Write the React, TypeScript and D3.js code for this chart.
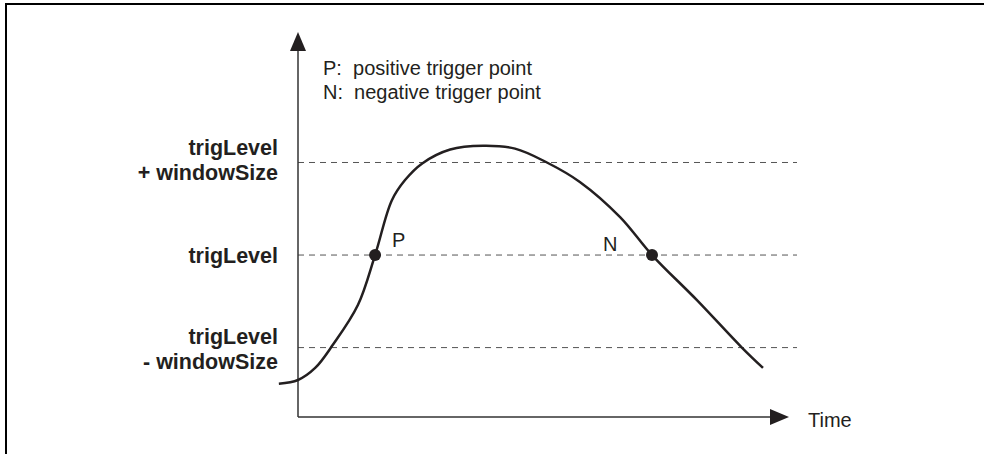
import * as d3 from "d3";

// signal samples (time units, level in windowSize units around trigLevel)
const signalTime = [-0.39, 0, 0.35, 0.71, 1.22, 1.57, 1.91, 2.18, 2.53, 3.1, 3.77, 4.42, 5.07, 5.74, 6.56, 7.21, 8.13, 9.04, 9.47];
const signalLevel = [-1.39, -1.35, -1.22, -0.97, -0.54, 0, 0.59, 0.81, 0.99, 1.14, 1.18, 1.15, 1.0, 0.79, 0.41, 0, -0.49, -1.0, -1.22];

const trigLevel = 0;
const windowSize = 1;
const levelLines = [trigLevel + windowSize, trigLevel, trigLevel - windowSize];
const levelLabels = [["trigLevel", "+ windowSize"], ["trigLevel"], ["trigLevel", "- windowSize"]];

const triggerPoints = [
  { name: "P", t: 1.57, v: trigLevel },
  { name: "N", t: 7.21, v: trigLevel },
];
const legendLines = ["P:  positive trigger point", "N:  negative trigger point"];
const xAxisLabel = "Time";

const W = 986;
const H = 454;
const font = "Arial, 'Liberation Sans', sans-serif";

export default function App() {
  const x = d3.scaleLinear().domain([0, 10]).range([298, 789]);
  const y = d3.scaleLinear().domain([-1.75, 2.41]).range([417, 32]);

  const data = signalTime.map((t, i) => ({ t, v: signalLevel[i] }));
  const line = d3
    .line<{ t: number; v: number }>()
    .x((d) => x(d.t))
    .y((d) => y(d.v))
    .curve(d3.curveCatmullRom.alpha(0.5));

  const x0 = x(0);
  const y0 = y(-1.75);
  const xEnd = x(10);
  const yTop = y(2.41);

  // label offsets for each level group (baselines relative to dashed line)
  const labelOffsets = [[-7, 18], [8], [-4, 21]];

  return (
    <svg
      width={W}
      height={H}
      style={{ position: "absolute", left: 0, top: 0, background: "#fff" }}
      fontFamily={font}
    >
      {/* frame */}
      <line x1={6} y1={4} x2={6} y2={H} stroke="#000" strokeWidth={2} />
      <line x1={5} y1={4} x2={984} y2={4} stroke="#000" strokeWidth={2} />

      {/* dashed level lines */}
      {levelLines.map((lv, i) => (
        <line
          key={i}
          x1={x0}
          x2={797}
          y1={y(lv)}
          y2={y(lv)}
          stroke="#555"
          strokeWidth={1}
          strokeDasharray="6,5"
        />
      ))}

      {/* axes */}
      <line x1={x0} y1={y0} x2={x0} y2={yTop + 19} stroke="#333" strokeWidth={1.5} />
      <path d={`M${x0},${yTop} L${x0 - 8},${yTop + 19} L${x0 + 8},${yTop + 19} Z`} fill="#231f20" />
      <line x1={x0} y1={y0} x2={xEnd - 19} y2={y0} stroke="#333" strokeWidth={1.5} />
      <path d={`M${xEnd},${y0} L${xEnd - 19},${y0 - 8} L${xEnd - 19},${y0 + 8} Z`} fill="#231f20" />
      <text x={xEnd + 19} y={y0 + 10} fontSize={20} fill="#231f20">
        {xAxisLabel}
      </text>

      {/* signal */}
      <path d={line(data) ?? ""} fill="none" stroke="#231f20" strokeWidth={2.5} />

      {/* trigger points */}
      {triggerPoints.map((p) => (
        <circle key={p.name} cx={x(p.t)} cy={y(p.v)} r={6} fill="#231f20" />
      ))}
      <text x={x(triggerPoints[0].t) + 17} y={y(trigLevel) - 8} fontSize={20} fill="#231f20">
        {triggerPoints[0].name}
      </text>
      <text x={x(triggerPoints[1].t) - 49} y={y(trigLevel) - 4} fontSize={20} fill="#231f20">
        {triggerPoints[1].name}
      </text>

      {/* level labels */}
      {levelLabels.map((lines, i) =>
        lines.map((s, j) => (
          <text
            key={`${i}-${j}`}
            x={278}
            y={y(levelLines[i]) + labelOffsets[i][j]}
            textAnchor="end"
            fontSize={21.5}
            fontWeight="bold"
            fill="#231f20"
            style={{ whiteSpace: "pre" }}
          >
            {s}
          </text>
        ))
      )}

      {/* legend */}
      {legendLines.map((s, i) => (
        <text
          key={s}
          x={323}
          y={75 + i * 24}
          fontSize={20}
          fill="#231f20"
          style={{ whiteSpace: "pre" }}
        >
          {s}
        </text>
      ))}
    </svg>
  );
}
